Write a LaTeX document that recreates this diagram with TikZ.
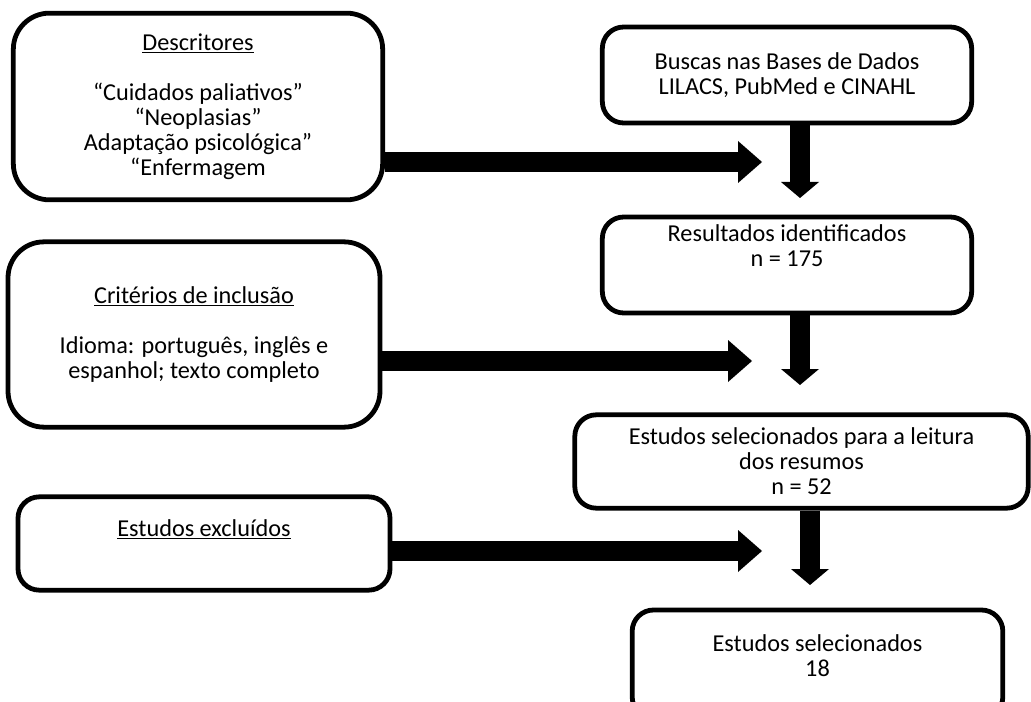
\documentclass[tikz,border=0pt]{standalone}
\usepackage{fontspec}
\setmainfont{Carlito}
\usepackage{tikz}
\usetikzlibrary{arrows.meta,positioning,calc}

\begin{document}
\begin{tikzpicture}[x=0.75pt, y=-0.75pt,
    box/.style={draw, line width=3.6pt, fill=white, align=center,
        font=\fontsize{18.2}{18.75}\selectfont},
    harrow/.style={line width=15pt,
        -{Triangle[length=18pt, width=31.5pt, line width=0pt]}},
    varrow/.style={line width=15pt,
        -{Triangle[length=12pt, width=28.5pt, line width=0pt]}}]
    \useasboundingbox (0,0) rectangle (1031,702);
    \clip (0,0) rectangle (1031,702);

    % Left column
    \node[box, rounded corners=27pt, minimum width=277pt, minimum height=140pt] (desc) at (198,106.5)
        {\underline{Descritores}\\[18.75pt]“Cuidados paliativos”\\“Neoplasias”\\Adaptação psicológica”\\“Enfermagem};
    \node[box, rounded corners=27pt, minimum width=279pt, minimum height=139pt] (crit) at (194,334.5)
        {\underline{Critérios de inclusão}\\[18.75pt]Idioma: português, inglês e\\espanhol; texto completo};
    \node[box, rounded corners=16pt, minimum width=279pt, minimum height=70pt] (excl) at (204,543.5)
        {\underline{Estudos excluídos}\\[4.5pt]\mbox{}};

    % Right column
    \node[box, rounded corners=16pt, minimum width=277pt, minimum height=72pt] (busca) at (787,75)
        {Buscas nas Bases de Dados\\LILACS, PubMed e CINAHL};
    \node[box, rounded corners=16pt, minimum width=277pt, minimum height=72pt] (result) at (787,265)
        {Resultados identificados\\n = 175\\[10.5pt]\mbox{}};
    \node[box, rounded corners=16pt, minimum width=340pt, minimum height=70pt] (leitura) at (801.5,461.5)
        {Estudos selecionados para a leitura\\dos resumos\\n = 52};
    \node[box, rounded corners=16pt, minimum width=278pt, minimum height=81pt] (final) at (817.5,664)
        {Estudos selecionados\\18\\[-6pt]\mbox{}};

    % Arrow tips
    \coordinate (h1) at (762,162);
    \coordinate (h2) at (752,361);
    \coordinate (h3) at (762,551);
    \coordinate (v1) at (800,198);
    \coordinate (v2) at (800,385);
    \coordinate (v3) at (810,585);

    % Horizontal arrows
    \draw[harrow] (desc.east |- h1) -- (h1);
    \draw[harrow] (crit.east |- h2) -- (h2);
    \draw[harrow] (excl.east |- h3) -- (h3);

    % Vertical arrows
    \draw[varrow] (busca.south -| v1) -- (v1);
    \draw[varrow] (result.south -| v2) -- (v2);
    \draw[varrow] (leitura.south -| v3) -- (v3);
\end{tikzpicture}
\end{document}
